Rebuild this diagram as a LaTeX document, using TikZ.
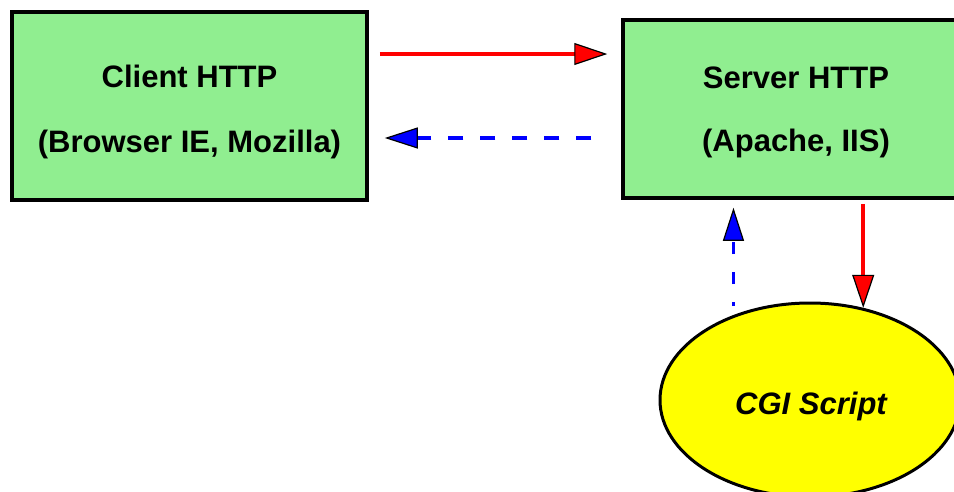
\documentclass[tikz,border=0pt]{standalone}
\usepackage{fontspec}
\setmainfont{Liberation Sans}
\usetikzlibrary{arrows.meta,shapes.geometric}
\definecolor{boxgreen}{HTML}{90EE90}
\definecolor{scriptyellow}{HTML}{FFFF00}
\tikzset{
  hostbox/.style={draw=black, fill=boxgreen, line width=3.5pt, rectangle, inner sep=0pt},
  scriptbox/.style={draw=black, fill=scriptyellow, line width=3pt, ellipse, inner sep=0pt},
  lbl/.style={anchor=base, inner sep=0pt, font=\bfseries\fontsize{31}{31}\selectfont},
  headred/.style={-{Triangle[length=33pt,width=22pt,color=black,fill=red,line width=1.2pt]}},
  headblue/.style={-{Triangle[length=33pt,width=21pt,color=black,fill=blue,line width=1.2pt]}},
  req/.style={draw=red, line width=3.5pt, headred},
  resp/.style={draw=blue, line width=3.5pt, headblue, dash pattern=on 15pt off 17pt}
}
\begin{document}
\begin{tikzpicture}[x=1pt,y=-1pt]
  \useasboundingbox (0,0) rectangle (954,491);
  \fill[white] (0,0) rectangle (954,491);
  \clip (0,0) rectangle (954,491);

  % hosts and the script
  \node[hostbox, minimum width=355pt, minimum height=188pt] (client) at (189.5,106) {};
  \node[hostbox, minimum width=346pt, minimum height=178pt] (server) at (796,109) {};
  \node[scriptbox, minimum width=300pt, minimum height=194pt] (cgi) at (810,400) {};

  % texts
  \node[lbl] (clientA) at ([yshift=19pt]client.center) {Client HTTP};
  \node[lbl] (clientB) at ([yshift=-46pt]client.center) {(Browser IE, Mozilla)};
  \node[lbl] (serverA) at ([yshift=21pt]server.center) {Server HTTP};
  \node[lbl] (serverB) at ([yshift=-42pt]server.center) {(Apache, IIS)};
  \node[lbl, font=\bfseries\itshape\fontsize{31}{31}\selectfont] (cgiText) at ([xshift=1pt,yshift=-14pt]cgi.center) {CGI Script};

  % request / response between client and server
  \coordinate (reqY) at (0,54);
  \coordinate (respY) at (0,138);
  \draw[req] ([xshift=11pt]client.east |- reqY) -- ([xshift=-14pt]server.west |- reqY);
  \draw[resp] ([xshift=-30pt]server.west |- respY) -- ([xshift=16pt]client.east |- respY);

  % server <-> CGI script
  \draw[req] ([yshift=-4pt]cgi.60 |- server.south) -- (cgi.60);
  \draw[resp, dash pattern=on 12pt off 18pt, dash phase=8pt]
    ([yshift=9pt]cgi.132) -- ([yshift=-8pt]cgi.132 |- server.south);
\end{tikzpicture}
\end{document}
